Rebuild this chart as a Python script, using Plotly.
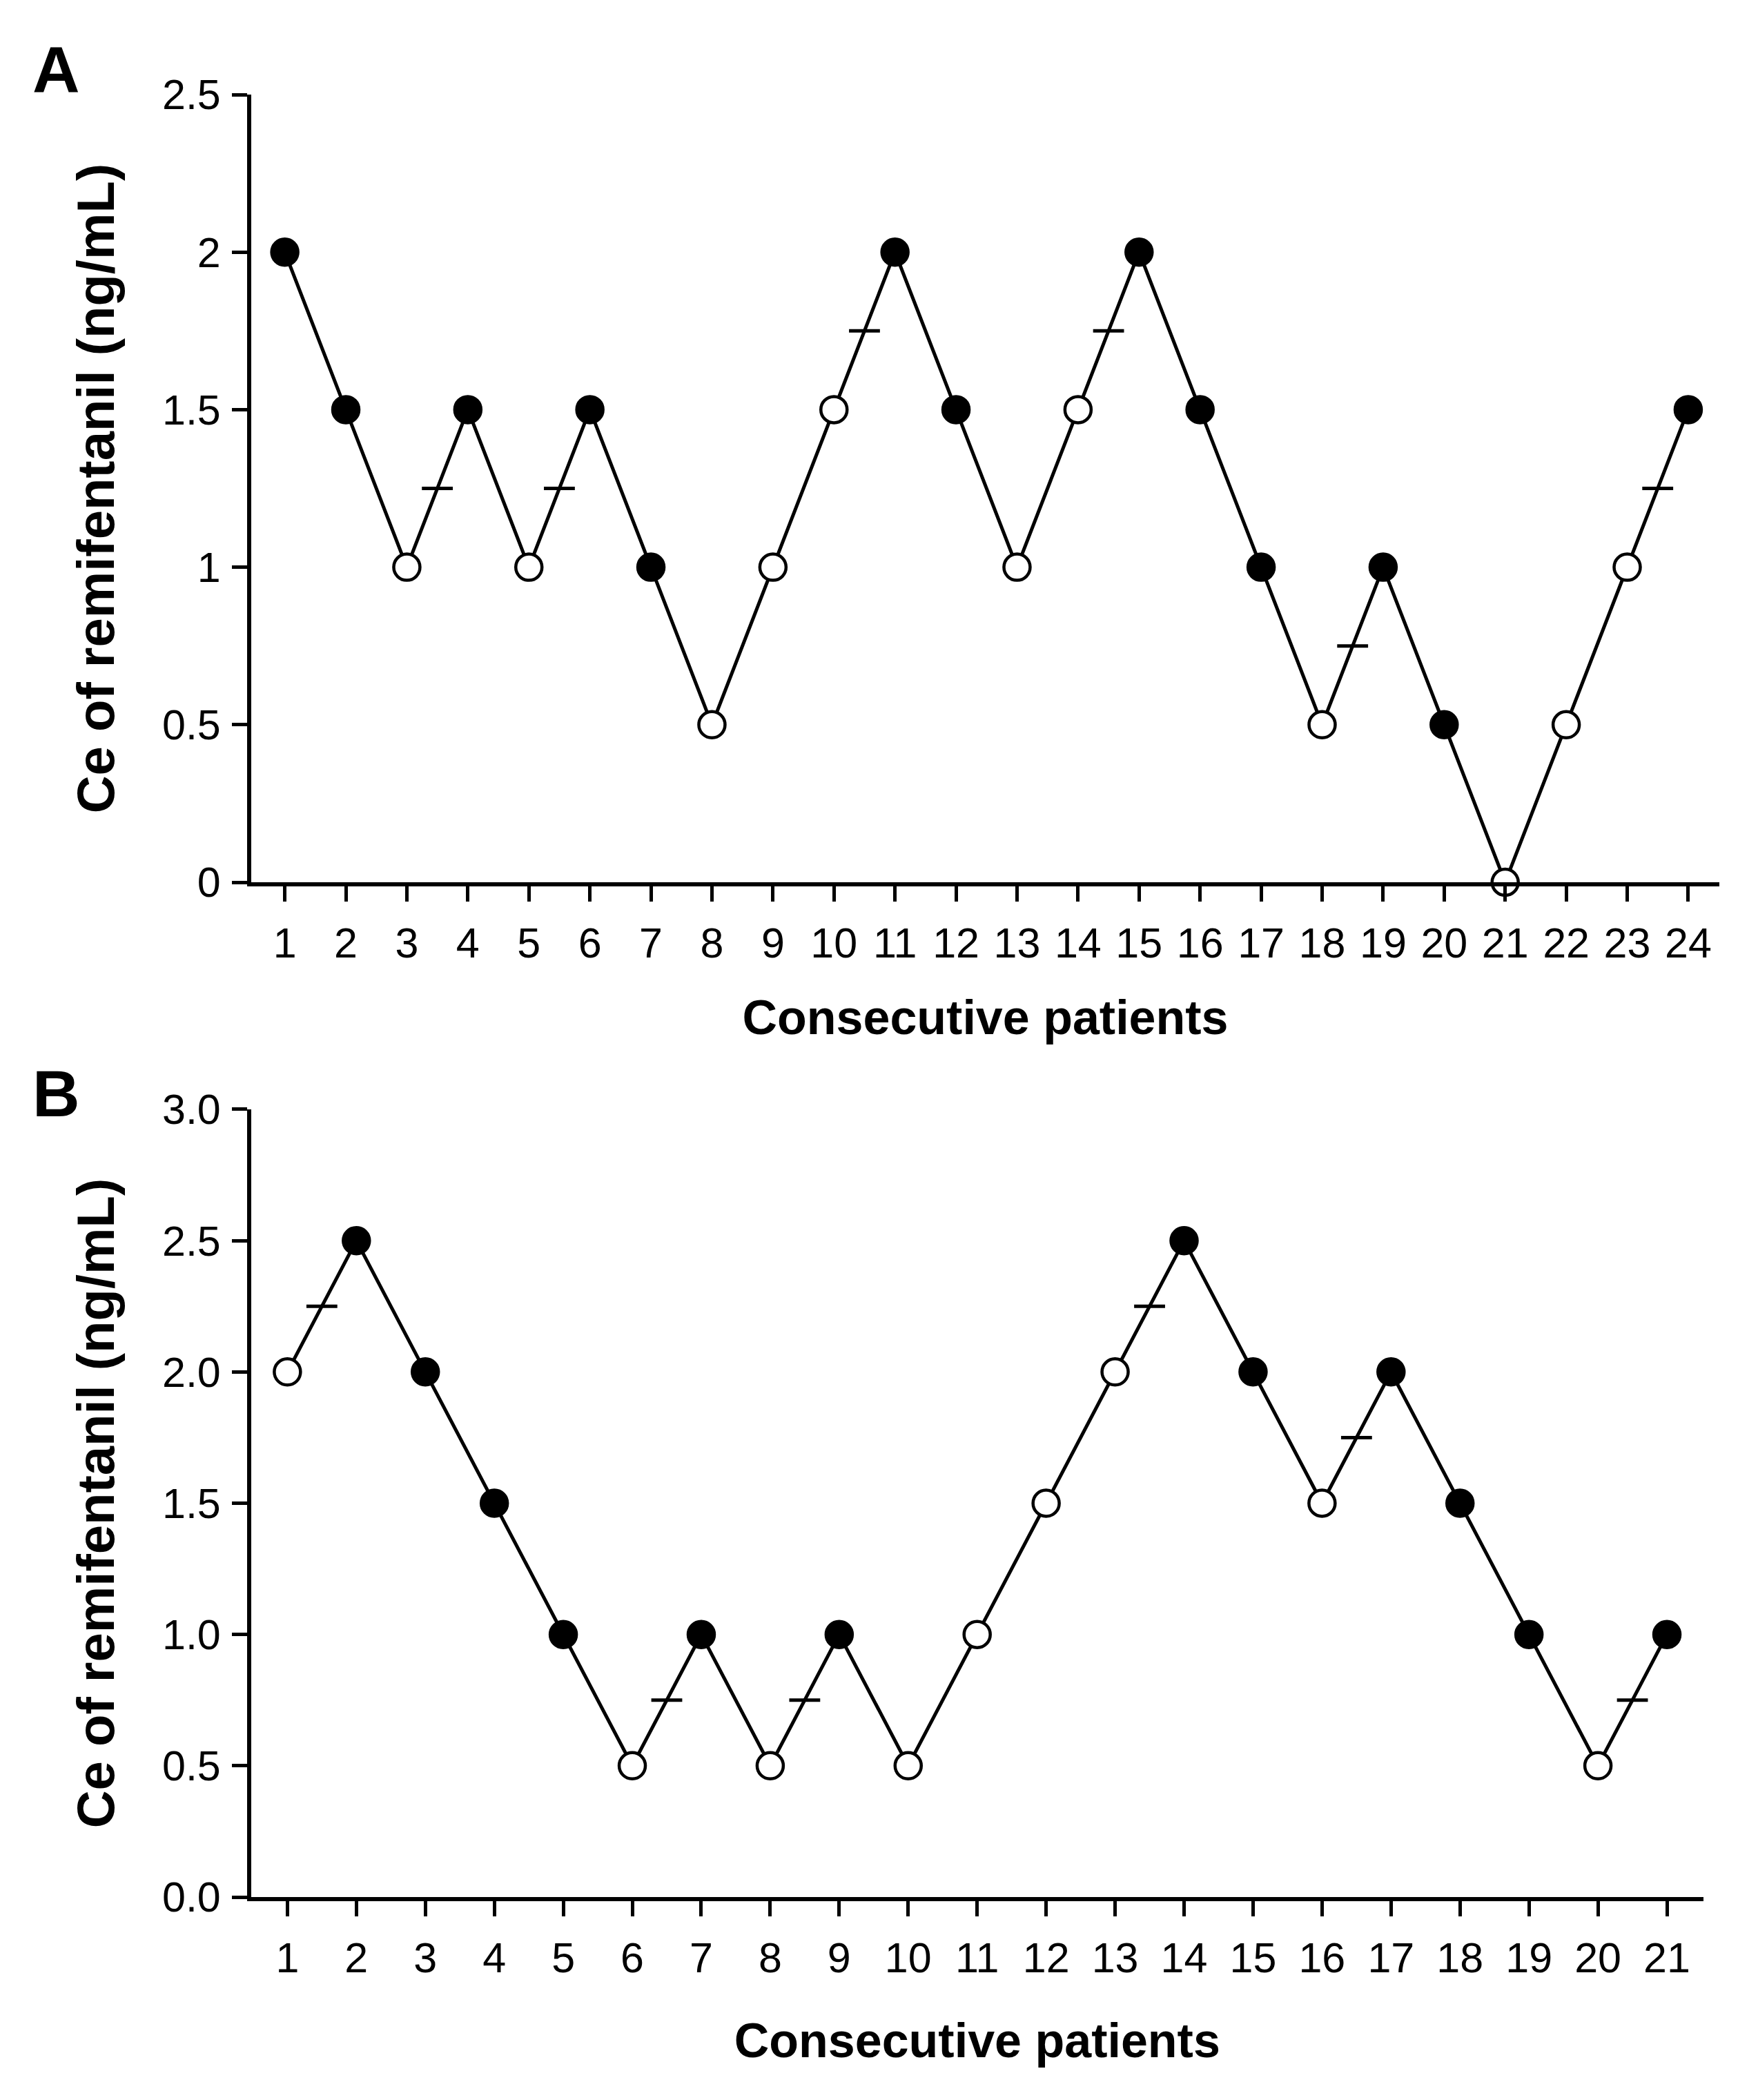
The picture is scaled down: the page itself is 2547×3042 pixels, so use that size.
import plotly.graph_objects as go

# Panel A: up-and-down sequence, 24 consecutive patients
a_patients = list(range(1, 25))
a_ce = [2, 1.5, 1, 1.5, 1, 1.5, 1, 0.5, 1, 1.5, 2, 1.5,
        1, 1.5, 2, 1.5, 1, 0.5, 1, 0.5, 0, 0.5, 1, 1.5]
# 1 = filled (response), 0 = open (no response)
a_resp = [1, 1, 0, 1, 0, 1, 1, 0, 0, 0, 1, 1,
          0, 0, 1, 1, 1, 0, 1, 1, 0, 0, 0, 1]
a_yticks = [0, 0.5, 1, 1.5, 2, 2.5]
a_ylabels = ["0", "0.5", "1", "1.5", "2", "2.5"]

# Panel B: 21 consecutive patients
b_patients = list(range(1, 22))
b_ce = [2, 2.5, 2, 1.5, 1, 0.5, 1, 0.5, 1, 0.5, 1, 1.5,
        2, 2.5, 2, 1.5, 2, 1.5, 1, 0.5, 1]
b_resp = [0, 1, 1, 1, 1, 0, 1, 0, 1, 0, 0, 0,
          0, 1, 1, 0, 1, 1, 1, 0, 1]
b_yticks = [0, 0.5, 1, 1.5, 2, 2.5, 3]
b_ylabels = ["0.0", "0.5", "1.0", "1.5", "2.0", "2.5", "3.0"]

FONT = "Liberation Sans, Arial, sans-serif"


def crossovers(x, y, resp):
    # midpoint of each open -> filled pair
    cx, cy = [], []
    for i in range(len(x) - 1):
        if resp[i] == 0 and resp[i + 1] == 1:
            cx.append((x[i] + x[i + 1]) / 2)
            cy.append((y[i] + y[i + 1]) / 2)
    return cx, cy


def add_panel(fig, x, y, resp, xa, ya):
    fig.add_trace(go.Scatter(x=x, y=y, mode="lines", line=dict(color="black", width=5),
                             xaxis=xa, yaxis=ya, showlegend=False, cliponaxis=False))
    cx, cy = crossovers(x, y, resp)
    fig.add_trace(go.Scatter(x=cx, y=cy, mode="markers",
                             marker=dict(symbol="line-ew", size=32, line=dict(color="black", width=5)),
                             xaxis=xa, yaxis=ya, showlegend=False, cliponaxis=False))
    fills = ["black" if r else "white" for r in resp]
    fig.add_trace(go.Scatter(x=x, y=y, mode="markers",
                             marker=dict(size=38, color=fills, line=dict(color="black", width=4.5)),
                             xaxis=xa, yaxis=ya, showlegend=False, cliponaxis=False))


fig = go.Figure()
add_panel(fig, a_patients, a_ce, a_resp, "x", "y")
add_panel(fig, b_patients, b_ce, b_resp, "x2", "y2")

axis_common = dict(showgrid=False, zeroline=False, showline=True, linecolor="black",
                   linewidth=6, ticks="outside", ticklen=22, tickwidth=5, tickcolor="black",
                   tickfont=dict(family=FONT, size=61, color="black"))
xtitle_font = dict(family=FONT, size=70, color="black", weight="bold")
ytitle_font = dict(family=FONT, size=76, color="black", weight="bold")

fig.update_layout(
    width=2547, height=3042,
    paper_bgcolor="white", plot_bgcolor="white",
    margin=dict(l=356, r=64, t=129, b=302),
    xaxis=dict(axis_common, domain=[0, 1], range=[0.45, 24.51], anchor="y",
               tickvals=a_patients, ticktext=[str(p) for p in a_patients], ticklabelstandoff=8,
               title=dict(text="Consecutive patients", font=xtitle_font, standoff=52)),
    yaxis=dict(axis_common, domain=[0.563, 1], range=[0, 2.5], anchor="x",
               tickvals=a_yticks, ticktext=a_ylabels, ticklabelstandoff=4,
               title=dict(text="Ce of remifentanil (ng/mL)", font=ytitle_font, standoff=46)),
    xaxis2=dict(axis_common, domain=[0, 0.989], range=[0.476, 21.526], anchor="y2",
                tickvals=b_patients, ticktext=[str(p) for p in b_patients], ticklabelstandoff=8,
                title=dict(text="Consecutive patients", font=xtitle_font, standoff=64)),
    yaxis2=dict(axis_common, domain=[0, 0.437], range=[0, 3.0], anchor="x2",
                tickvals=b_yticks, ticktext=b_ylabels, ticklabelstandoff=4,
                title=dict(text="Ce of remifentanil (ng/mL)", font=ytitle_font, standoff=46)),
)

for letter, ypos in [("A", 1.0138), ("B", 0.4458)]:
    fig.add_annotation(text=letter, xref="paper", yref="paper", x=-0.150, y=ypos,
                       xanchor="left", yanchor="middle", showarrow=False,
                       font=dict(family=FONT, size=95, color="black", weight="bold"))

fig.write_html("out.html")
